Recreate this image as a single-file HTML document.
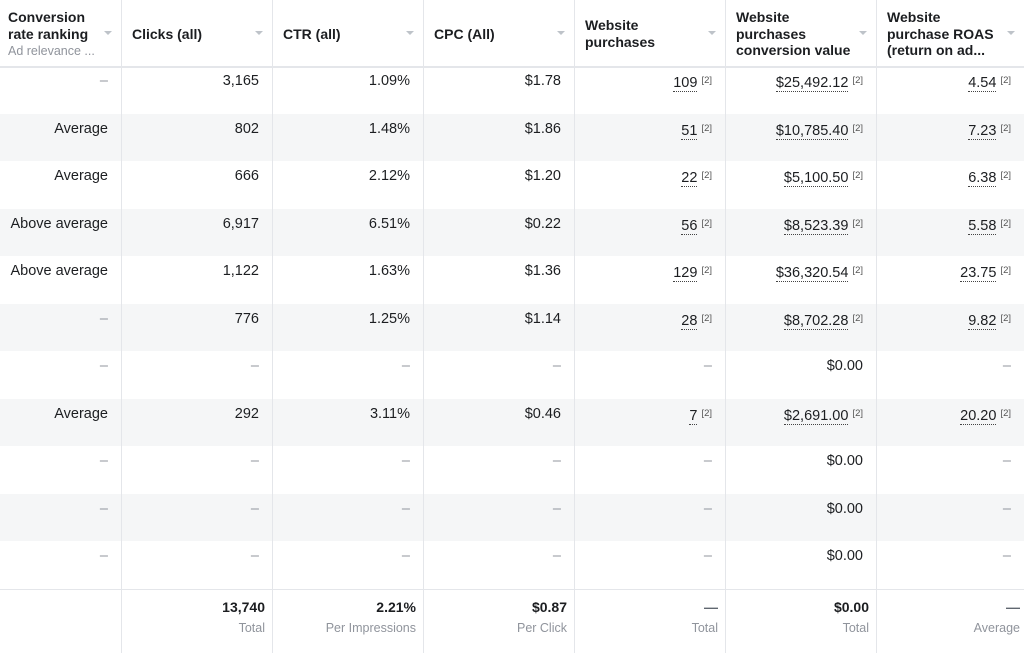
<!DOCTYPE html>
<html><head><meta charset="utf-8"><style>
body{margin:0;width:1024px;height:653px;overflow:hidden;background:#fff;font-family:"Liberation Sans",Arial,sans-serif;color:#1c1e21;position:relative}
.v{position:absolute;top:0;width:1px;height:653px;background:#e4e6ea}
.h{position:absolute;left:0;width:1024px;height:1px;background:#e4e6ea}
.s{position:absolute;left:0;width:1024px;background:#f5f6f7}
.hd{position:absolute;font-weight:bold;font-size:14px;line-height:16.5px}
.sub{font-weight:normal;color:#90949c;font-size:12.5px}
.ar{position:absolute;width:0;height:0;border-left:4px solid transparent;border-right:4px solid transparent;border-top:4px solid #bec3c9;top:31px}
.c{position:absolute;font-size:14.5px;text-align:right;line-height:16px}
.u{border-bottom:1px dotted #444}
sup{font-size:9.5px;color:#555;vertical-align:4px;margin-left:4px}
.d{color:#90949c}
.t{position:absolute;font-size:12.5px;color:#90949c;text-align:right}
.b{position:absolute;font-size:14px;font-weight:bold;text-align:right}
</style></head><body>
<div class="s" style="top:114px;height:47px"></div>
<div class="s" style="top:209px;height:47px"></div>
<div class="s" style="top:304px;height:47px"></div>
<div class="s" style="top:399px;height:47px"></div>
<div class="s" style="top:494px;height:47px"></div>
<div class="h" style="top:66px;height:2px"></div>
<div class="h" style="top:589px"></div>
<div class="v" style="left:121px"></div><div class="v" style="left:272px"></div><div class="v" style="left:423px"></div><div class="v" style="left:574px"></div><div class="v" style="left:725px"></div><div class="v" style="left:876px"></div>
<div class="hd" style="left:8px;top:9px">Conversion<br>rate ranking<br><span class="sub">Ad relevance ...</span></div>
<div class="hd" style="left:132px;top:26px">Clicks (all)</div>
<div class="hd" style="left:283px;top:26px">CTR (all)</div>
<div class="hd" style="left:434px;top:26px">CPC (All)</div>
<div class="hd" style="left:585px;top:17px">Website<br>purchases</div>
<div class="hd" style="left:736px;top:9px">Website<br>purchases<br>conversion value</div>
<div class="hd" style="left:887px;top:9px">Website<br>purchase ROAS<br>(return on ad...</div>
<div class="ar" style="left:104px"></div><div class="ar" style="left:255px"></div><div class="ar" style="left:406px"></div><div class="ar" style="left:557px"></div><div class="ar" style="left:708px"></div><div class="ar" style="left:859px"></div><div class="ar" style="left:1007px"></div>
<div id="rows"></div>
<script>
var R=[["—","3,165","1.09%","$1.78","109","$25,492.12","4.54"],
["Average","802","1.48%","$1.86","51","$10,785.40","7.23"],
["Average","666","2.12%","$1.20","22","$5,100.50","6.38"],
["Above average","6,917","6.51%","$0.22","56","$8,523.39","5.58"],
["Above average","1,122","1.63%","$1.36","129","$36,320.54","23.75"],
["—","776","1.25%","$1.14","28","$8,702.28","9.82"],
["—","—","—","—","—","$0.00","—"],
["Average","292","3.11%","$0.46","7","$2,691.00","20.20"],
["—","—","—","—","—","$0.00","—"],
["—","—","—","—","—","$0.00","—"],
["—","—","—","—","—","$0.00","—"]];
var L=[0,121,272,423,574,725,876],W=[121,151,151,151,151,151,148],h="";
R.forEach(function(r,i){var y=66+i*47.5+7;r.forEach(function(v,j){var x=L[j],w=W[j]-13,txt=v;
if(v=="—")txt='<span class="d">–</span>';else if(j>=4&&!(j==5&&v=="$0.00"))txt='<span class="u">'+v+'</span><sup>[2]</sup>';
h+='<div class="c" style="left:'+x+'px;top:'+y+'px;width:'+w+'px">'+txt+'</div>';});});
var T=[["",""],["13,740","Total"],["2.21%","Per Impressions"],["$0.87","Per Click"],["—","Total"],["$0.00","Total"],["—","Average"]];
T.forEach(function(t,j){if(!t[0])return;var x=L[j],w=W[j]-(j==6?4:7);
h+='<div class="b" style="left:'+x+'px;top:599px;width:'+w+'px;'+(t[0]=="—"?'color:#606770':'')+'">'+t[0]+'</div>';
h+='<div class="t" style="left:'+x+'px;top:621px;width:'+w+'px">'+t[1]+'</div>';});
document.getElementById("rows").innerHTML=h;
</script>
</body></html>
